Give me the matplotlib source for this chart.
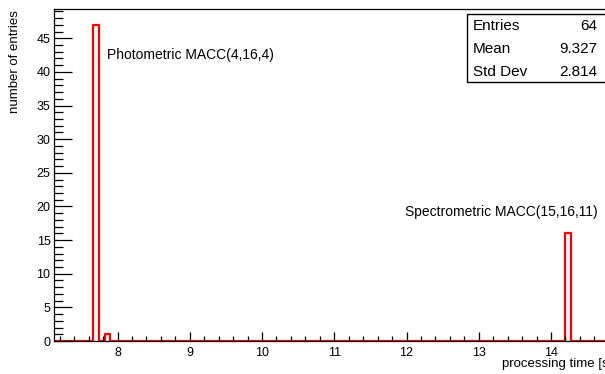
import numpy as np
import matplotlib.pyplot as plt
from matplotlib.ticker import MultipleLocator
from matplotlib.patches import Rectangle

plt.rcParams['font.family'] = ['Liberation Sans', 'DejaVu Sans']

# histogram binning (100 bins) and the filled bins
x_lo = 7.12
bin_width = 0.0778
n_bins = 100
filled_bins = [7, 9, 91]
filled_counts = [47, 1, 16]

stats_labels = ['Entries', 'Mean', 'Std Dev']
stats_values = ['64', '9.327', '2.814']

edges = x_lo + bin_width * np.arange(n_bins + 1)
counts = np.zeros(n_bins)
counts[filled_bins] = filled_counts

fig = plt.figure(figsize=(6.05, 3.74), dpi=100)
ax = fig.add_axes([54 / 605, 33 / 374, (616 - 54) / 605, 332 / 374])

ax.stairs(counts, edges, color='red', linewidth=1.6, baseline=0)
ax.set_xlim(edges[0], edges[-1])
ax.set_ylim(0, max(filled_counts) * 1.05)

ax.xaxis.set_major_locator(MultipleLocator(1))
ax.xaxis.set_minor_locator(MultipleLocator(0.2))
ax.yaxis.set_major_locator(MultipleLocator(5))
ax.yaxis.set_minor_locator(MultipleLocator(1))
ax.tick_params(axis='both', which='both', direction='in', labelsize=9,
               color='black', width=0.9)
ax.tick_params(axis='x', which='major', length=6.5, pad=4)
ax.tick_params(axis='x', which='minor', length=3.3)
ax.tick_params(axis='y', which='major', length=13, pad=2.5)
ax.tick_params(axis='y', which='minor', length=6.5)
for s in ax.spines.values():
    s.set_linewidth(0.9)

ax.set_ylabel('number of entries', fontsize=9.5, loc='top')
ax.yaxis.set_label_coords(-33 / 562, 0.997)
ax.set_xlabel('processing time [s]', fontsize=9.5, ha='right')
ax.xaxis.set_label_coords((612 - 54) / 562, -17 / 332)

ax.text(7.855, 42.5, 'Photometric MACC(4,16,4)', fontsize=10, va='center')
ax.text(14.646, 19.2, 'Spectrometric MACC(15,16,11)', fontsize=10,
        va='center', ha='right')

# stats box
fig.add_artist(Rectangle((467 / 605, 1 - 82 / 374), 150 / 605, 68 / 374,
                         transform=fig.transFigure, facecolor='white',
                         edgecolor='black', linewidth=1.0))
for i, (lab, val) in enumerate(zip(stats_labels, stats_values)):
    y = 1 - (26 + 23 * i) / 374
    fig.text(473 / 605, y, lab, fontsize=11, va='center')
    fig.text(597 / 605, y, val, fontsize=11, va='center', ha='right')

fig.savefig('out.png', dpi=100)
